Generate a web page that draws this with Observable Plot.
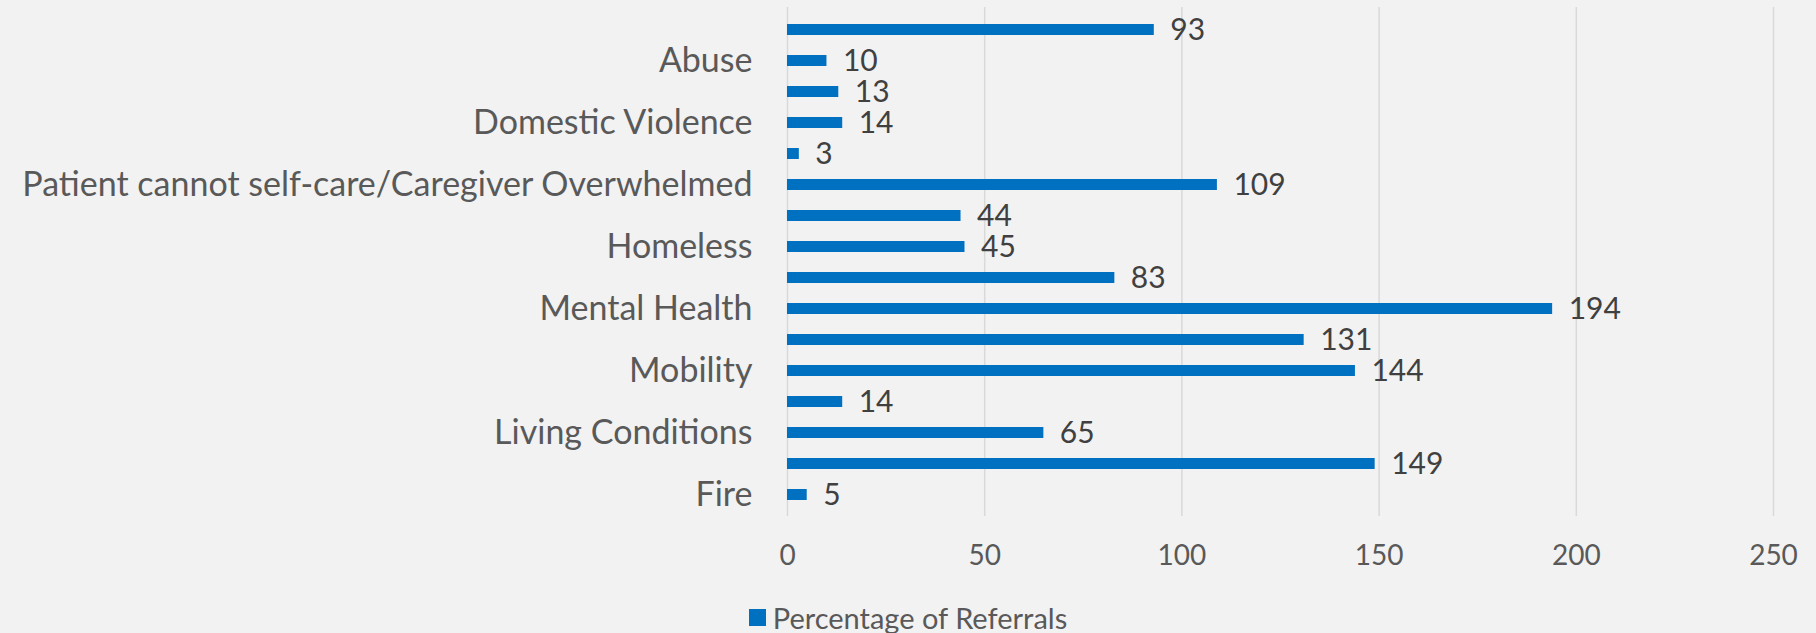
<!DOCTYPE html>
<html>
<head>
<meta charset="utf-8">
<script src="https://cdn.jsdelivr.net/npm/d3@7"></script>
<script src="https://cdn.jsdelivr.net/npm/@observablehq/plot@0.6"></script>
<style>
  html, body { margin: 0; padding: 0; background: #f2f2f2; }
  #chart svg { display: block; }
  #legend { font-family: Lato, sans-serif; font-size: 29px; color: #595959; display: flex; justify-content: center; align-items: center; height: 34px; }
  #legend .sw { width: 17px; height: 17px; background: #0070c0; margin-right: 7px; }
</style>
</head>
<body>
<div id="chart"></div>
<div id="legend"><span class="sw"></span><span>Percentage of Referrals</span></div>
<script>
const labels = ["", "Abuse", "", "Domestic Violence", "", "Patient cannot self-care/Caregiver Overwhelmed", "", "Homeless", "", "Mental Health", "", "Mobility", "", "Living Conditions", "", "Fire"];
const values = [93, 10, 13, 14, 3, 109, 44, 45, 83, 194, 131, 144, 14, 65, 149, 5];
const xTicks = [0, 50, 100, 150, 200, 250];
const seriesName = "Percentage of Referrals";

const data = values.map((v, i) => ({i, value: v, label: labels[i]}));

const chart = Plot.plot({
  width: 1816,
  height: 600,
  marginLeft: 787,
  marginRight: 43,
  marginTop: 7,
  marginBottom: 84,
  style: {background: "#f2f2f2", fontFamily: "Lato, sans-serif"},
  x: {domain: [0, 250]},
  y: {domain: d3.range(values.length), paddingInner: 0.65, paddingOuter: 0.325},
  marks: [
    Plot.gridX(xTicks, {stroke: "#d9d9d9", strokeOpacity: 1, strokeWidth: 1.5}),
    Plot.barX(data, {x: "value", y: "i", fill: "#0070c0"}),
    Plot.text(data, {x: "value", y: "i", text: d => String(d.value), dx: 16, textAnchor: "start", fill: "#404040", fontSize: 30}),
    Plot.axisX({ticks: xTicks, tickSize: 0, tickPadding: 29, fontSize: 28, fill: "#595959", label: null}),
    Plot.axisY({tickSize: 0, tickPadding: 35, tickFormat: i => labels[i], fontSize: 34, fill: "#595959", label: null})
  ]
});
document.getElementById("chart").appendChild(chart);
</script>
</body>
</html>
